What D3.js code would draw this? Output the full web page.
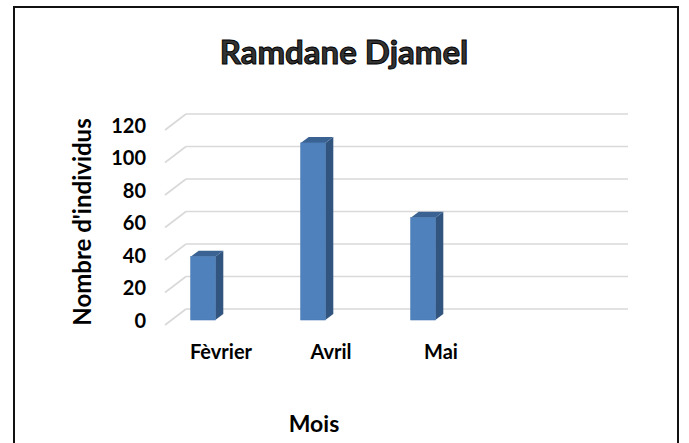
<!DOCTYPE html>
<html>
<head>
<meta charset="utf-8">
<script src="https://cdn.jsdelivr.net/npm/d3@7/dist/d3.min.js"></script>
<style>
  html, body { margin: 0; padding: 0; background: #fff; }
  svg { display: block; }
  text { font-family: Lato, "Open Sans", sans-serif; font-weight: 700; }
</style>
</head>
<body>
<svg id="chart" width="689" height="443"></svg>
<script>
// Data
const months = ["Fèvrier", "Avril", "Mai"];
const counts = [39, 109, 63];
const yTicks = [0, 20, 40, 60, 80, 100, 120];
const chartTitle = "Ramdane Djamel";
const xTitle = "Mois";
const yTitle = "Nombre d'individus";

const svg = d3.select("#chart");

// Chart frame
svg.append("rect")
  .attr("x", 14).attr("y", 7)
  .attr("width", 664).attr("height", 450)
  .attr("fill", "#fff").attr("stroke", "#111").attr("stroke-width", 2);

// 3D depth offsets
const depthX = 8, depthY = -6;          // bar depth
const wallDX = 21, wallDY = -16;         // floor depth (front edge -> back wall)

// Scales on the plane of the bars
const x = d3.scaleBand().domain(months).range([148, 478]);
const y = d3.scaleLinear().domain([0, 120]).range([320, 125]);
// back wall plane
const yBack = v => y(v) - 11;
const wallLeft = 186, wallRight = 628;

// Gridlines: diagonal on the side wall + horizontal on the back wall
const grid = svg.append("g").attr("stroke", "#d9d9d9").attr("stroke-width", 1.6).attr("fill", "none");
yTicks.forEach(v => {
  grid.append("line")
    .attr("x1", wallLeft - wallDX).attr("y1", yBack(v) - wallDY)
    .attr("x2", wallLeft).attr("y2", yBack(v));
  grid.append("line")
    .attr("x1", wallLeft).attr("y1", yBack(v))
    .attr("x2", wallRight).attr("y2", yBack(v));
});

// Value axis labels
const yAxis = d3.axisLeft(d3.scaleLinear().domain([0, 120]).range([y(0) + 1, y(120) + 1]))
  .tickValues(yTicks).tickSize(0).tickPadding(0);
const yAxisG = svg.append("g").attr("transform", "translate(146,0)").call(yAxis);
yAxisG.select(".domain").remove();
yAxisG.selectAll("text")
  .attr("font-size", 20).attr("font-family", "Lato, sans-serif").attr("font-weight", 700)
  .attr("fill", "#000");

// Bars (front, side, top faces)
const barW = 24.6;
const bars = svg.append("g");
months.forEach((m, i) => {
  const x0 = x(m) + x.bandwidth() / 2 - barW / 2;
  const x1 = x0 + barW;
  const yt = y(counts[i]), yb = y(0);
  const g = bars.append("g");
  g.append("path")
    .attr("d", `M${x1},${yb}L${x1 + depthX},${yb + depthY}L${x1 + depthX},${yt + depthY}L${x1},${yt}Z`)
    .attr("fill", "#31557f");
  g.append("path")
    .attr("d", `M${x0},${yt}L${x0 + depthX},${yt + depthY}L${x1 + depthX},${yt + depthY}L${x1},${yt}Z`)
    .attr("fill", "#3a6393");
  g.append("rect")
    .attr("x", x0).attr("y", yt).attr("width", barW).attr("height", yb - yt)
    .attr("fill", "#4f81bd").attr("stroke", "#4a7ab3").attr("stroke-width", 0.6);
});

// Category labels
const xAxis = d3.axisBottom(x).tickSize(0).tickPadding(0);
const xAxisG = svg.append("g").attr("transform", "translate(18,345)").call(xAxis);
xAxisG.select(".domain").remove();
xAxisG.selectAll("text")
  .attr("font-size", 20).attr("font-family", "Lato, sans-serif").attr("font-weight", 700)
  .attr("fill", "#000");

// Title
svg.append("text")
  .attr("x", 344).attr("y", 64)
  .attr("text-anchor", "middle")
  .attr("font-size", 33).attr("font-weight", 400)
  .attr("fill", "#333").attr("stroke", "#000").attr("stroke-width", 1)
  .text(chartTitle);

// Axis titles
svg.append("text")
  .attr("x", 314).attr("y", 432)
  .attr("text-anchor", "middle").attr("font-size", 23).attr("fill", "#000")
  .text(xTitle);

svg.append("text")
  .attr("transform", "translate(91,222) rotate(-90)")
  .attr("text-anchor", "middle").attr("font-size", 24).attr("fill", "#000")
  .text(yTitle);
</script>
</body>
</html>
